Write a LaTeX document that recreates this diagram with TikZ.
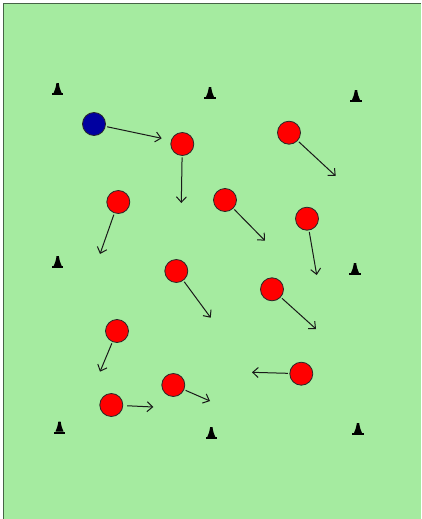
\documentclass[tikz,border=0pt]{standalone}
\usetikzlibrary{arrows.meta}
\definecolor{pitch}{RGB}{165,235,160}
\definecolor{pitchedge}{RGB}{70,100,70}
\definecolor{ballred}{RGB}{255,0,0}
\definecolor{ballblue}{RGB}{0,0,160}
\definecolor{outline}{RGB}{40,40,40}
\tikzset{
  player/.style={circle, minimum size=23pt, inner sep=0pt, draw=outline, line width=0.8pt, fill=ballred},
  keeper/.style={player, fill=ballblue},
  run/.style={draw=black!90, line width=1pt, -{Straight Barb[length=5.5pt,width=10pt,line width=1pt]}, shorten <=1.5pt},
  cone/.pic={
    \fill[black] (-5.6,0.3) rectangle (5.6,-2);
    \fill[black] (-4,-2) .. controls (-2.5,-5) and (-1.7,-8) .. (-1.2,-11.8) -- (1.2,-11.8) .. controls (1.7,-8) and (2.5,-5) .. (4,-2) -- cycle;
  }
}
\begin{document}
\begin{tikzpicture}[x=1pt,y=-1pt]
\useasboundingbox (0,0) rectangle (421,519);
\fill[pitch] (3.3,3.3) rectangle (421,519);
\draw[pitchedge, line width=1.4pt] (3.3,519) -- (3.3,3.3) -- (421,3.3);

% cones
\pic (c1) at (57.6,95) {cone};
\pic (c2) at (210,99) {cone};
\pic (c3) at (356,102) {cone};
\pic (c4) at (57.7,268) {cone};
\pic (c5) at (355,275) {cone};
\pic (c6) at (59.5,433.5) {cone};
\pic (c7) at (211.3,439) {cone};
\pic (c8) at (358,435) {cone};

% players
\node[keeper] (k) at (94,124) {};
\node[player] (p1) at (182.3,144) {};
\node[player] (p2) at (289,132.7) {};
\node[player] (p3) at (118.3,202) {};
\node[player] (p4) at (225,200) {};
\node[player] (p5) at (307,218.7) {};
\node[player] (p6) at (176.3,271) {};
\node[player] (p7) at (272,289.3) {};
\node[player] (p8) at (117,331) {};
\node[player] (p9) at (173.3,385) {};
\node[player] (p10) at (301.3,373.7) {};
\node[player] (p11) at (111.3,405) {};

% run targets
\coordinate (ek) at (161.7,138.3);
\coordinate (e1) at (181.3,203);
\coordinate (e2) at (335.7,176);
\coordinate (e3) at (100,254);
\coordinate (e4) at (265,240.7);
\coordinate (e5) at (316.7,275);
\coordinate (e6) at (210.7,317.7);
\coordinate (e7) at (316,329);
\coordinate (e8) at (100,371.7);
\coordinate (e9) at (210,401);
\coordinate (e10) at (252,372.3);
\coordinate (e11) at (153.3,407);

\draw[run] (k) -- (ek);
\draw[run] (p1) -- (e1);
\draw[run] (p2) -- (e2);
\draw[run] (p3) -- (e3);
\draw[run] (p4) -- (e4);
\draw[run] (p5) -- (e5);
\draw[run] (p6) -- (e6);
\draw[run] (p7) -- (e7);
\draw[run] (p8) -- (e8);
\draw[run] (p9) -- (e9);
\draw[run] (p10) -- (e10);
\draw[run, shorten <=4pt] (p11) -- (e11);
\end{tikzpicture}
\end{document}
